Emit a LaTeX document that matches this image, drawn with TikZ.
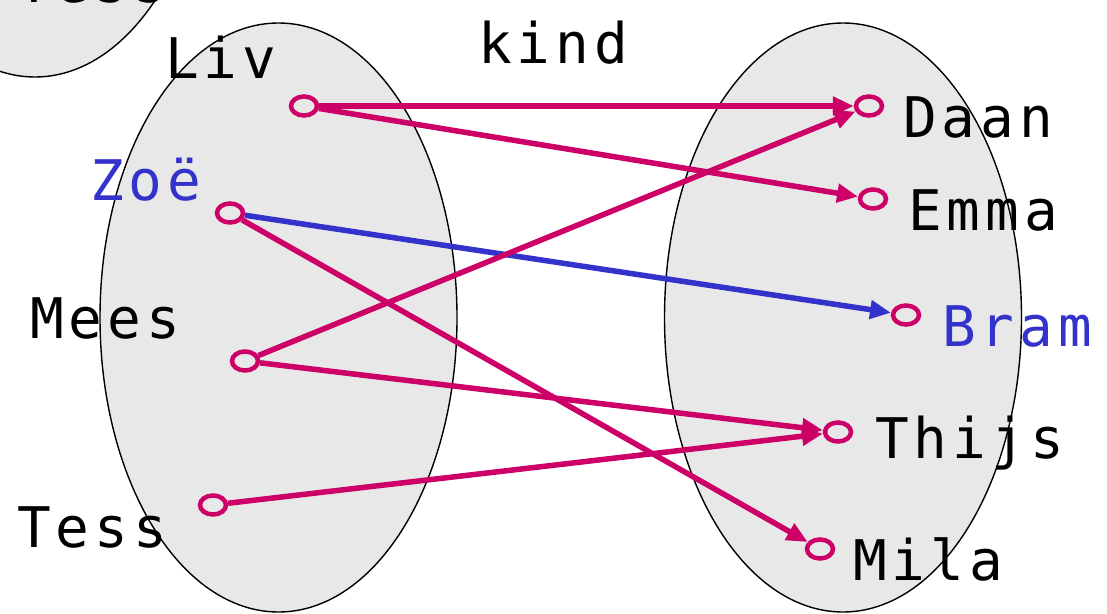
\documentclass[tikz,border=0pt]{standalone}
\usepackage{fontspec}
\usetikzlibrary{arrows.meta,shapes.geometric}
\newfontfamily\namefont{DejaVu Sans Mono}[LetterSpace=9]
\definecolor{roze}{RGB}{204,0,102}
\definecolor{blauw}{RGB}{51,51,204}
\definecolor{vlak}{RGB}{232,232,232}
\tikzset{
  verz/.style={draw=black, line width=1.4pt, fill=vlak},
  elem/.style={ellipse, draw=roze, line width=4.5pt, minimum width=26pt,
    minimum height=19pt, inner sep=0pt},
  naam/.style={anchor=base west, inner sep=0pt,
    font=\namefont\fontsize{56}{60}\selectfont},
  rel/.style={-{Triangle[length=21pt,width=18pt]}, line width=5.5pt, draw=roze},
}
\begin{document}
\begin{tikzpicture}[x=1pt, y=-1pt]
  \useasboundingbox (0,0) rectangle (1107,613);
  \clip (0,0) rectangle (1107,613);
  % the sets
  \draw[verz] (35,-217.5) ellipse [x radius=178.5, y radius=294.5];
  \node[naam] (tessoud) at (17,2) {Tess};
  \draw[verz] (278.5,317.5) ellipse [x radius=178.5, y radius=294.5];
  \draw[verz] (843,317.5) ellipse [x radius=178.5, y radius=294.5];
  \node[naam] (kind) at (478,63) {kind};
  % elements
  \node[elem] (liv) at (304,106) {};
  \node[elem] (zoe) at (230,213) {};
  \node[elem] (mees) at (245,361) {};
  \node[elem] (tess) at (213,505) {};
  \node[elem] (daan) at (869,106) {};
  \node[elem] (emma) at (873,199) {};
  \node[elem] (bram) at (906,315) {};
  \node[elem] (thijs) at (838,432) {};
  \node[elem] (mila) at (820,549) {};
  % names
  \node[naam] (lliv) at (165,78) {Liv};
  \node[naam, text=blauw] (lzoe) at (90,200) {Zoë};
  \node[naam] (lmees) at (30,338) {Mees};
  \node[naam] (ltess) at (17,547) {Tess};
  \node[naam] (ldaan) at (903,137) {Daan};
  \node[naam] (lemma) at (908,230) {Emma};
  \node[naam, text=blauw] (lbram) at (942,346) {Bram};
  \node[naam] (lthijs) at (875,458) {Thijs};
  \node[naam] (lmila) at (853,580) {Mila};
  % relations
  \draw[rel] (liv) -- (daan);
  \draw[rel] (liv) -- (emma);
  \draw[rel, draw=blauw] (zoe) -- (bram);
  \draw[rel] (zoe) -- (mila);
  \draw[rel] (mees) -- (daan);
  \draw[rel] (mees) -- (thijs);
  \draw[rel] (tess) -- (thijs);
\end{tikzpicture}
\end{document}
